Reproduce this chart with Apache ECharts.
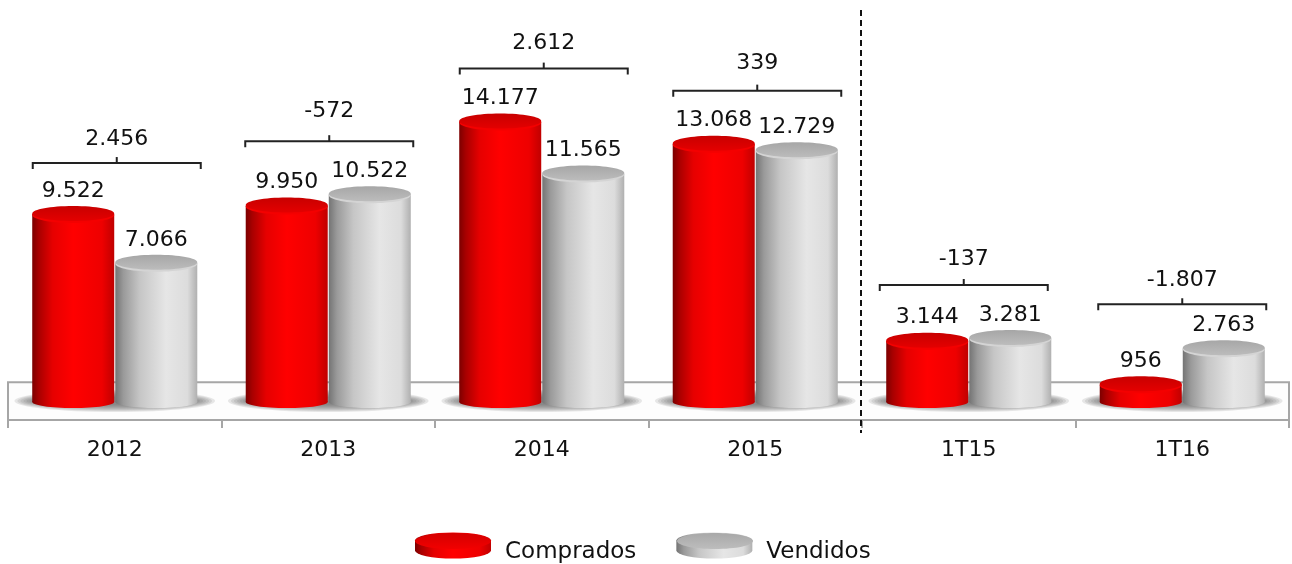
<!DOCTYPE html>
<html>
<head>
<meta charset="utf-8">
<title>Comprados e Vendidos</title>
<style>
html, body { margin: 0; padding: 0; background: #fff; }
#container { width: 1292px; height: 564px; }
</style>
<script src="https://cdn.jsdelivr.net/npm/echarts@6/dist/echarts.min.js"></script>
</head>
<body>
<div id="container"></div>
<script>
var categories = ['2012', '2013', '2014', '2015', '1T15', '1T16'];
var comprados = [9522, 9950, 14177, 13068, 3144, 956];
var vendidos = [7066, 10522, 11565, 12729, 3281, 2763];
var diferenca = [2456, -572, 2612, 339, -137, -1807];

// how far the brace and its number sit from the taller cylinder, px
var braceLift = [43, 45, 45, 45, 45, 36];
var braceLabelLift = [24, 30, 25, 27, 26, 24];
var braceShift = [2, 1, 2, 2, -5, 0];

var FONT = '"DejaVu Sans", Verdana, sans-serif';
var RX = 41, RY = 8;

function fmt(v) {
    var s = String(Math.abs(v)).replace(/\B(?=(\d{3})+$)/g, '.');
    return v < 0 ? '-' + s : s;
}

function hGrad(stops) {
    return new echarts.graphic.LinearGradient(0, 0, 1, 0, stops.map(function (c) {
        return { offset: c[0], color: c[1] };
    }));
}

function vGrad(a, b) {
    return new echarts.graphic.LinearGradient(0, 0, 0, 1, [
        { offset: 0, color: a },
        { offset: 1, color: b }
    ]);
}

var redBody = [[0, '#7c0000'], [0.08, '#a80000'], [0.25, '#e60000'], [0.5, '#ff0000'], [0.85, '#ee0000'], [1, '#c00000']];
var greyBody = [[0, '#747474'], [0.1, '#9a9a9a'], [0.3, '#c6c6c6'], [0.62, '#e6e6e6'], [0.88, '#dcdcdc'], [1, '#b0b0b0']];

function cylinder(colors, side) {
    return function (params, api) {
        var w = api.size([1, 0])[0];
        var cx = api.coord([api.value(0), 0])[0] + side * w * 0.1945;
        var base = api.coord([api.value(0), 0])[1] - 1;
        var top = api.coord([api.value(0), api.value(1)])[1];
        var body = hGrad(colors.body);
        return {
            type: 'group',
            children: [
                { type: 'ellipse', shape: { cx: cx, cy: base, rx: RX, ry: 6 }, style: { fill: body } },
                { type: 'rect', shape: { x: cx - RX, y: top, width: RX * 2, height: base - top }, style: { fill: body } },
                { type: 'ellipse', shape: { cx: cx, cy: top + 1, rx: RX, ry: RY }, style: { fill: colors.rim } },
                { type: 'ellipse', shape: { cx: cx, cy: top - 0.5, rx: RX, ry: RY - 0.5 }, style: { fill: vGrad(colors.capA, colors.capB) } },
                {
                    type: 'text',
                    style: {
                        text: fmt(api.value(1)), x: cx, y: top - 23,
                        font: '22px ' + FONT, fill: '#111', align: 'center', verticalAlign: 'middle'
                    }
                }
            ]
        };
    };
}

function renderFloor(params, api) {
    var cs = params.coordSys;
    var w = api.size([1, 0])[0];
    var cx = api.coord([api.value(0), 0])[0];
    var base = api.coord([api.value(0), 0])[1] - 2;
    var children = [];
    if (params.dataIndex === 0) {
        var back = api.coord([0, 1050])[1];
        children.push({
            type: 'rect',
            shape: { x: cs.x, y: back, width: cs.width, height: cs.y + cs.height - back },
            style: { fill: '#fdfdfd', stroke: '#a6a6a6', lineWidth: 2 }
        });
    }
    // stacked see-through ellipses give the soft shadow on the floor
    for (var k = 0; k < 8; k++) {
        children.push({
            type: 'ellipse',
            shape: { cx: cx, cy: base, rx: w * 0.47 - k * 3, ry: 11 - k },
            style: { fill: 'rgba(90,90,90,0.14)' }
        });
    }
    return { type: 'group', children: children };
}

function renderBrace(params, api) {
    var i = api.value(0);
    var cx = api.coord([i, 0])[0] + braceShift[i];
    var y = api.coord([i, Math.max(comprados[i], vendidos[i])])[1] - RY - braceLift[i];
    return {
        type: 'group',
        children: [
            {
                type: 'polyline',
                shape: { points: [[cx - 84, y + 6], [cx - 84, y], [cx + 84, y], [cx + 84, y + 6]] },
                style: { fill: null, stroke: '#222', lineWidth: 2 }
            },
            {
                type: 'line',
                shape: { x1: cx, y1: y, x2: cx, y2: y - 6 },
                style: { stroke: '#222', lineWidth: 2 }
            },
            {
                type: 'text',
                style: {
                    text: fmt(api.value(1)), x: cx, y: y - braceLabelLift[i],
                    font: '22px ' + FONT, fill: '#111', align: 'center', verticalAlign: 'middle'
                }
            }
        ]
    };
}

// dashed line between the yearly and the quarterly groups
function renderDivider(params, api) {
    var x = api.coord([api.value(0), 0])[0] - api.size([1, 0])[0] / 2;
    return {
        type: 'line',
        shape: { x1: x - 1, y1: 10, x2: x - 1, y2: 433 },
        style: { stroke: '#111', lineWidth: 2, lineDash: [6, 4] }
    };
}

function pairs(list) {
    return list.map(function (v, i) { return [i, v]; });
}

var discIcon = 'path://M0,8 A38,8 0 0 1 76,8 L76,18 A38,8 0 0 1 0,18 Z';

var myChart = echarts.init(document.getElementById('container'));
var option = {
    animation: false,
    backgroundColor: '#fff',
    grid: { left: 8, right: 3, top: 3, bottom: 144 },
    legend: {
        left: 410,
        top: 522,
        itemWidth: 76,
        itemHeight: 26,
        itemGap: 40,
        selectedMode: false,
        formatter: '{t|{name}}',
        textStyle: {
            rich: {
                t: { fontFamily: FONT, fontSize: 23, color: '#111', lineHeight: 27, padding: [14, 0, 0, 9] }
            }
        },
        data: [
            { name: 'Comprados', icon: discIcon, itemStyle: { color: hGrad(redBody) } },
            { name: 'Vendidos', icon: discIcon, itemStyle: { color: hGrad(greyBody) } }
        ]
    },
    graphic: [
        { type: 'ellipse', z: 200, shape: { cx: 453, cy: 541, rx: 38, ry: 8 }, style: { fill: vGrad('#d40000', '#f20000') } },
        { type: 'ellipse', z: 200, shape: { cx: 715, cy: 541, rx: 38, ry: 8 }, style: { fill: vGrad('#a8a8a8', '#bdbdbd') } }
    ],
    xAxis: {
        type: 'category',
        data: categories,
        axisLine: { onZero: false, lineStyle: { color: '#a6a6a6', width: 2 } },
        axisTick: { show: true, length: 8, lineStyle: { color: '#a6a6a6', width: 2 } },
        axisLabel: { fontFamily: FONT, fontSize: 22, color: '#111', margin: 19 }
    },
    yAxis: { type: 'value', show: false, min: -850, max: 20150 },
    series: [
        { type: 'custom', name: 'piso', silent: true, clip: false, renderItem: renderFloor, data: pairs(comprados) },
        {
            type: 'custom', name: 'Comprados', silent: true, clip: false,
            renderItem: cylinder({ body: redBody, rim: '#f40000', capA: '#c80000', capB: '#e40000' }, -1),
            data: pairs(comprados)
        },
        {
            type: 'custom', name: 'Vendidos', silent: true, clip: false,
            renderItem: cylinder({ body: greyBody, rim: '#d4d4d4', capA: '#a6a6a6', capB: '#bcbcbc' }, 1),
            data: pairs(vendidos)
        },
        { type: 'custom', name: 'diferenca', silent: true, clip: false, renderItem: renderBrace, data: pairs(diferenca) },
        { type: 'custom', name: 'divisor', silent: true, clip: false, renderItem: renderDivider, data: [[4, 0]] }
    ]
};
myChart.setOption(option);
</script>
</body>
</html>
